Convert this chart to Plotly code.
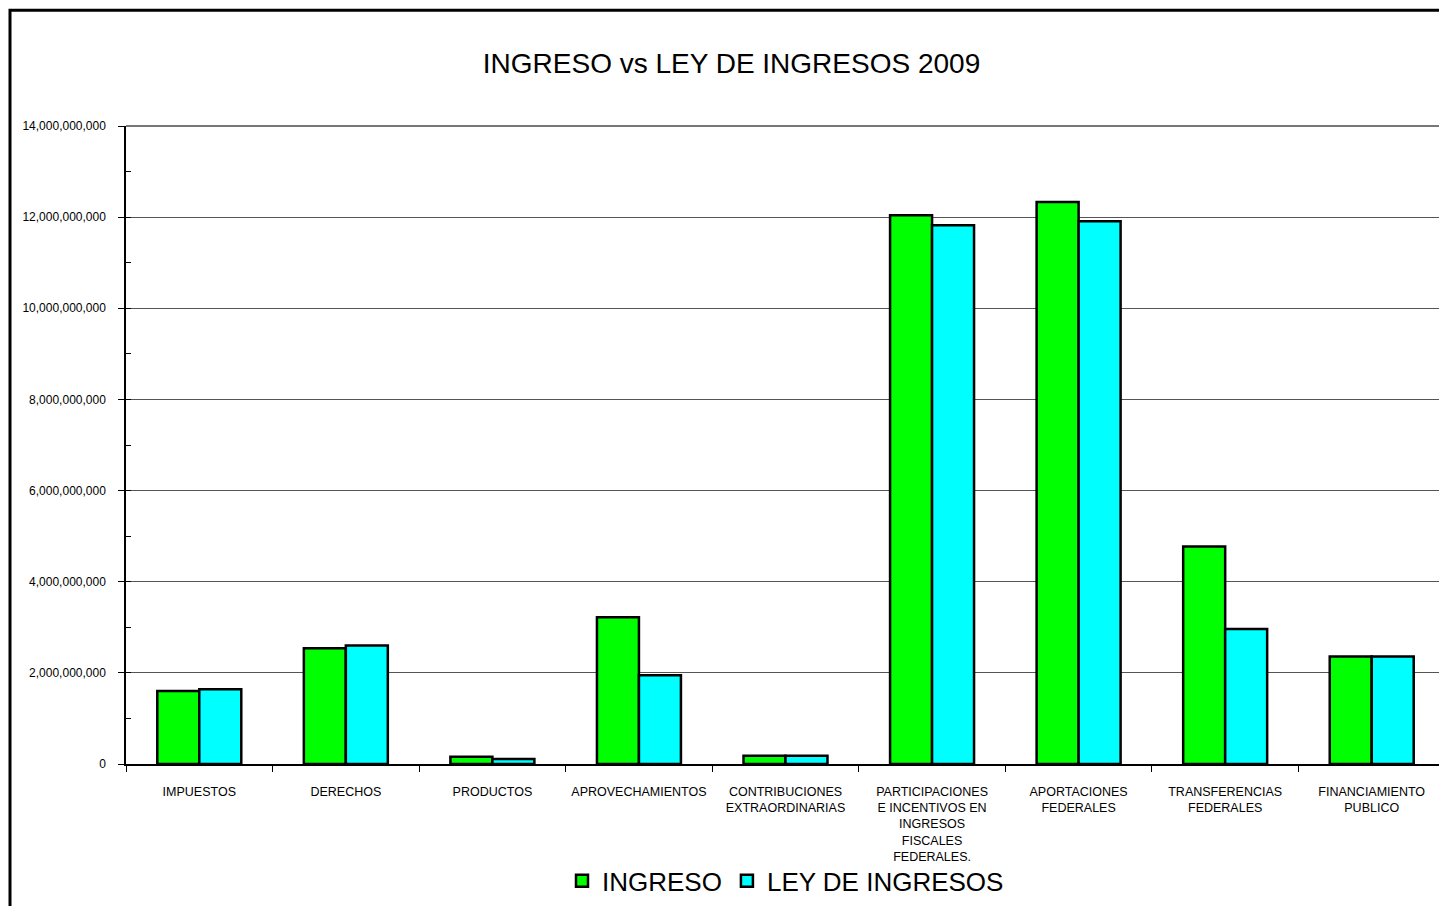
"""Ingreso vs Ley de Ingresos 2009 - grouped bar chart"""
import plotly.graph_objects as go

categorias = [
    "IMPUESTOS",
    "DERECHOS",
    "PRODUCTOS",
    "APROVECHAMIENTOS",
    "CONTRIBUCIONES<br>EXTRAORDINARIAS",
    "PARTICIPACIONES<br>E INCENTIVOS EN<br>INGRESOS<br>FISCALES<br>FEDERALES.",
    "APORTACIONES<br>FEDERALES",
    "TRANSFERENCIAS<br>FEDERALES",
    "FINANCIAMIENTO<br>PUBLICO",
]

ingreso = [1.60e9, 2.54e9, 0.16e9, 3.22e9, 0.18e9, 12.04e9, 12.33e9, 4.77e9, 2.36e9]
ley_ingresos = [1.64e9, 2.60e9, 0.11e9, 1.95e9, 0.18e9, 11.82e9, 11.91e9, 2.96e9, 2.36e9]

y_ticks = [0, 2e9, 4e9, 6e9, 8e9, 10e9, 12e9, 14e9]

FONT = "Liberation Sans, Arial, sans-serif"

fig = go.Figure()

#Green bars for the actual income, cyan bars for the budgeted income
fig.add_trace(go.Bar(x=categorias, y=ingreso, name="INGRESO",
                     marker={"color": "#00ff00", "line": {"color": "black", "width": 2.5}}))
fig.add_trace(go.Bar(x=categorias, y=ley_ingresos, name="LEY DE INGRESOS",
                     marker={"color": "#00ffff", "line": {"color": "black", "width": 2.5}}))

#The page body adds an 8px offset, so margins are reduced by that amount
fig.update_layout(
    width=1447, height=906,
    margin={"l": 118, "r": 10, "t": 118, "b": 148},
    paper_bgcolor="white", plot_bgcolor="white",
    font={"family": FONT, "color": "black"},
    title={"text": "INGRESO vs LEY DE INGRESOS 2009", "x": 0.5, "xanchor": "center",
           "y": 1 - 55 / 906, "yanchor": "middle", "font": {"size": 28}},
    barmode="group", bargap=0.427, bargroupgap=0,
    legend={"orientation": "h", "x": 0.5, "xanchor": "center", "y": -0.183, "yanchor": "middle",
            "font": {"size": 26}, "traceorder": "normal", "bgcolor": "rgba(0,0,0,0)"},
    xaxis={"showline": True, "linecolor": "black", "linewidth": 1.5, "mirror": False,
           "ticks": "outside", "tickson": "boundaries", "ticklen": 6, "tickcolor": "black",
           "tickfont": {"size": 12.5}, "tickangle": 0, "showgrid": False,
           "ticklabelstandoff": 15},
    yaxis={"range": [0, 14e9], "tickvals": y_ticks, "tickformat": ",d",
           "showline": True, "linecolor": "black", "linewidth": 1.5,
           "ticks": "outside", "ticklen": 6, "tickcolor": "black", "tickfont": {"size": 12},
           "ticklabelstandoff": 10,
           "showgrid": True, "gridcolor": "#555555", "gridwidth": 1, "zeroline": False,
           "minor": {"dtick": 1e9, "ticks": "inside", "ticklen": 5, "tickcolor": "black",
                     "showgrid": False}},
    shapes=[
        #Gray top and right border of the plot area
        {"type": "line", "xref": "paper", "yref": "paper", "x0": 0, "x1": 1, "y0": 1, "y1": 1,
         "line": {"color": "#777777", "width": 2}},
        {"type": "line", "xref": "paper", "yref": "paper", "x0": 1, "x1": 1, "y0": 0, "y1": 1,
         "line": {"color": "#777777", "width": 1.5}},
        #Outer chart frame
        {"type": "rect", "xref": "paper", "yref": "paper",
         "x0": (10 - 126) / 1319, "x1": 1.05, "y0": -0.3, "y1": (766 - 10) / 640,
         "line": {"color": "black", "width": 3}},
    ],
)

fig.write_html("out.html")
